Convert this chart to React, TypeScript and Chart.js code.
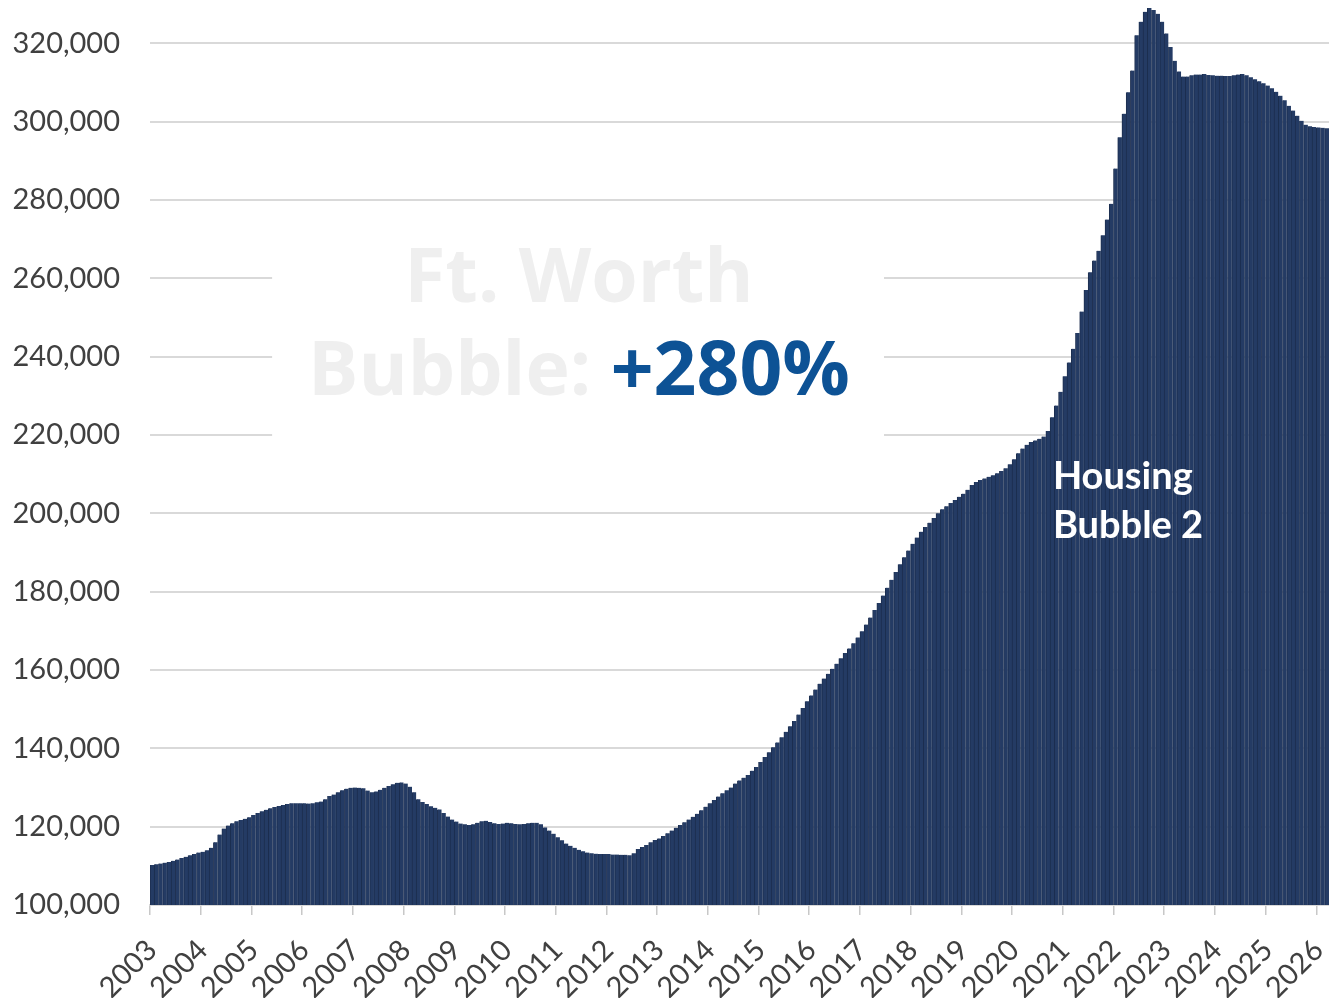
import React, { useEffect, useRef } from "react";
import { Chart, registerables } from "chart.js";

Chart.register(...registerables);

const startYear = 2003;
const yearLabels = [
  "2003", "2004", "2005", "2006", "2007", "2008", "2009", "2010", "2011", "2012", "2013", "2014",
  "2015", "2016", "2017", "2018", "2019", "2020", "2021", "2022", "2023", "2024", "2025", "2026",
];
const yTickValues = [
  100000, 120000, 140000, 160000, 180000, 200000, 220000, 240000, 260000, 280000, 300000, 320000,
];

// Monthly median home value, Jan 2003 – Mar 2026
const homeValues = [
  110200, 110400, 110600, 110800, 111000, 111300, 111600, 112000, 112300, 112700, 113000, 113400, // 2003
  113600, 114000, 114600, 116000, 118000, 119500, 120300, 120900, 121400, 121700, 122000, 122400, // 2004
  123000, 123500, 123900, 124300, 124700, 125000, 125300, 125500, 125800, 126000, 126000, 126000, // 2005
  126000, 125900, 126000, 126200, 126400, 127000, 127800, 128200, 128800, 129300, 129700, 129900, // 2006
  130000, 129900, 129800, 129200, 128800, 129000, 129400, 129900, 130400, 130800, 131200, 131300, // 2007
  131000, 130200, 128800, 127000, 126300, 125800, 125200, 124800, 124400, 123500, 122600, 121800, // 2008
  121300, 120800, 120600, 120400, 120600, 121000, 121400, 121500, 121200, 120900, 120700, 120800, // 2009
  121000, 120900, 120700, 120600, 120700, 120900, 121000, 121000, 120600, 119800, 119000, 118200, // 2010
  117300, 116500, 115700, 115100, 114600, 114100, 113700, 113400, 113200, 113100, 113000, 113000, // 2011
  113000, 112900, 112900, 112800, 112800, 112700, 113200, 114300, 114800, 115300, 116000, 116600, // 2012
  117000, 117600, 118300, 119000, 119700, 120400, 121100, 121800, 122500, 123300, 124200, 125100, // 2013
  126000, 126800, 127700, 128500, 129300, 130000, 131000, 131800, 132500, 133200, 134300, 135200, // 2014
  136500, 137800, 139000, 140300, 141500, 142800, 144200, 145600, 147000, 148600, 150300, 152000, // 2015
  153500, 155000, 156500, 157800, 159000, 160300, 161600, 163000, 164300, 165500, 166800, 168300, // 2016
  169900, 171600, 173400, 175300, 177100, 179000, 181000, 183000, 185000, 187000, 188800, 190500, // 2017
  192200, 193800, 195300, 196500, 197600, 198800, 200000, 201000, 201800, 202600, 203400, 204200, // 2018
  205000, 206000, 207200, 208000, 208500, 208900, 209300, 209700, 210200, 210800, 211500, 212500, // 2019
  213800, 215300, 216500, 217500, 218200, 218600, 219000, 219600, 221000, 224500, 227500, 231000, // 2020
  235000, 238500, 242000, 246000, 251500, 257000, 261500, 264500, 267000, 271000, 275000, 279000, // 2021
  288000, 296000, 302000, 307500, 313000, 322000, 325500, 328000, 329000, 328500, 327500, 325500, // 2022
  322500, 319000, 315500, 312800, 311500, 311500, 311800, 312000, 312000, 312100, 311900, 311800, // 2023
  311700, 311700, 311600, 311600, 311800, 312000, 312100, 311800, 311300, 310800, 310300, 309800, // 2024
  309200, 308500, 307600, 306600, 305400, 304000, 302800, 301500, 300200, 299200, 298800, 298600, // 2025
  298500, 298400, 298300, // 2026
];

const monthLabels = homeValues.map(
  (_, i) => `${startYear + Math.floor(i / 12)}-${String((i % 12) + 1).padStart(2, "0")}`
);

const titleLine1 = "Ft. Worth";
const titleLine2a = "Bubble: ";
const titleLine2b = "+280%";
const noteLines = ["Housing", "Bubble 2"];

const AXIS_FONT = "Lato, 'Open Sans', sans-serif";
const overlayPlugin = {
  id: "overlayText",
  afterDraw(chart: any) {
    const { ctx } = chart;
    const xs = chart.scales.x;
    const ys = chart.scales.y;
    ctx.save();
    // white box
    const bx0 = xs.getPixelForValue(28.4);
    const bx1 = xs.getPixelForValue(173.2);
    const by0 = ys.getPixelForValue(276000);
    const by1 = ys.getPixelForValue(219200);
    ctx.fillStyle = "#ffffff";
    ctx.fillRect(bx0, by0, bx1 - bx0, by1 - by0);

    // big title
    const family = "'Open Sans', sans-serif";
    ctx.font = `bold 100px ${family}`;
    const full = ctx.measureText(titleLine2a + titleLine2b).width;
    const size = (100 * 542) / full;
    ctx.font = `bold ${size}px ${family}`;
    ctx.textBaseline = "alphabetic";
    const cx = xs.getPixelForValue(101);
    ctx.fillStyle = "#efefef";
    ctx.textAlign = "center";
    ctx.fillText(titleLine1, cx, ys.getPixelForValue(253900));
    const wa = ctx.measureText(titleLine2a).width;
    const wb = ctx.measureText(titleLine2b).width;
    const startX = cx - (wa + wb) / 2;
    const y2 = ys.getPixelForValue(230200);
    ctx.textAlign = "left";
    ctx.fillText(titleLine2a, startX, y2);
    ctx.fillStyle = "#0d5295";
    ctx.fillText(titleLine2b, startX + wa, y2);

    // note inside area
    ctx.font = `bold 38px Lato, sans-serif`;
    ctx.fillStyle = "#ffffff";
    const nx = xs.getPixelForValue(213.4) - 1;
    ctx.fillText(noteLines[0], nx, ys.getPixelForValue(206200));
    ctx.fillText(noteLines[1], nx, ys.getPixelForValue(193700));
    ctx.restore();
  },
};

export default function App() {
  const ref = useRef<HTMLCanvasElement | null>(null);
  useEffect(() => {
    document.body.style.margin = "0";
    const canvas = ref.current!;
    const chart = new Chart(canvas, {
      type: "bar",
      data: {
        labels: monthLabels,
        datasets: [
          {
            data: homeValues,
            backgroundColor: "#243b64",
            borderColor: "#1c2e4f",
            borderWidth: { left: 1, top: 0, right: 0, bottom: 0 },
            borderSkipped: false,
            barPercentage: 1,
            categoryPercentage: 1,
          },
        ],
      },
      options: {
        animation: false,
        responsive: false,
        maintainAspectRatio: false,
        layout: { padding: { top: 4, left: 0, right: 0, bottom: 0 } },
        plugins: { legend: { display: false }, tooltip: { enabled: false }, title: { display: false } },
        scales: {
          x: {
            type: "category",
            grid: {
              drawOnChartArea: false,
              drawTicks: true,
              tickLength: 10,
              lineWidth: 1.5,
              color: (c: any) => (c.index % 12 === 0 ? "#c8c8c8" : "rgba(0,0,0,0)"),
            },
            border: { display: true, color: "#d9d9d9", width: 2 },
            ticks: {
              autoSkip: false,
              minRotation: 45,
              maxRotation: 45,
              padding: 18,
              color: "#404040",
              font: { family: AXIS_FONT, size: 29 },
              callback: (_v: any, i: number) => (i % 12 === 0 ? yearLabels[i / 12] : ""),
            },
            afterFit: (s: any) => {
              s.height = 93;
              s.paddingLeft = 0;
              s.paddingRight = 0;
            },
          },
          y: {
            min: 100000,
            max: 330000,
            grid: { color: "#d9d9d9", lineWidth: 2, drawTicks: false },
            border: { display: false },
            ticks: {
              padding: 30,
              color: "#404040",
              font: { family: AXIS_FONT, size: 29 },
              callback: (v: any) => Number(v).toLocaleString("en-US"),
            },
            afterBuildTicks: (s: any) => {
              s.ticks = yTickValues.map((v) => ({ value: v }));
            },
            afterFit: (s: any) => {
              s.width = 150;
              s.paddingTop = 0;
              s.paddingBottom = 0;
            },
          },
        },
      },
      plugins: [overlayPlugin],
    });
    return () => chart.destroy();
  }, []);
  return (
    <div style={{ width: 1329, height: 998, position: "relative" }}>
      <canvas ref={ref} width={1329} height={998} style={{ display: "block" }} />
    </div>
  );
}
